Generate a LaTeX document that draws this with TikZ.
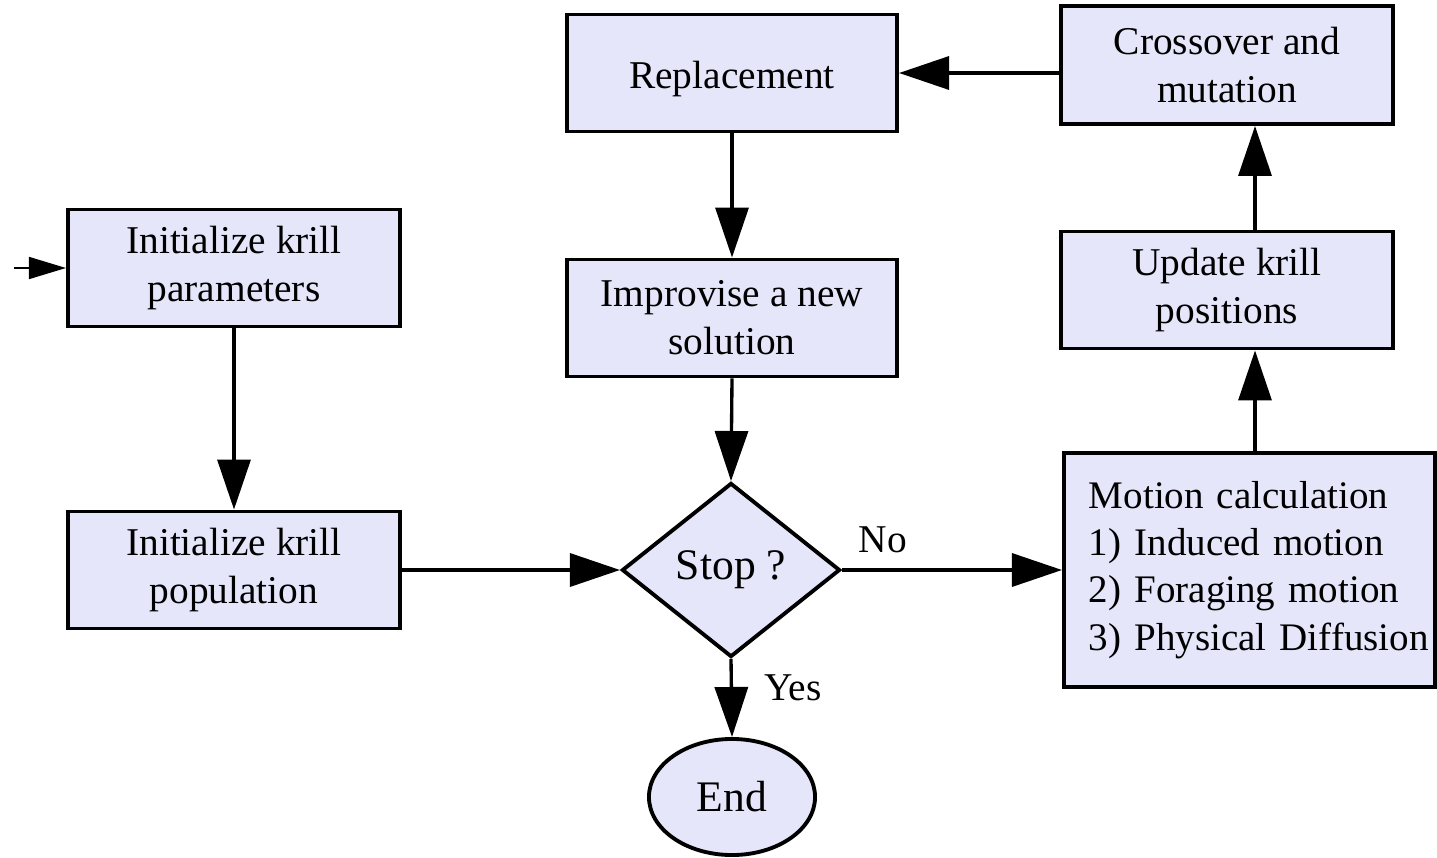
\documentclass[tikz,border=0pt]{standalone}
\usepackage{fontspec}
\setmainfont{Liberation Serif}
\usetikzlibrary{arrows.meta,shapes.geometric}
\definecolor{boxfill}{RGB}{230,230,250}
\tikzset{
  box/.style={draw=black, line width=1.1pt, fill=boxfill, align=center,
    inner sep=0pt, font=\fontsize{11.2}{13.6}\selectfont},
  decision/.style={box, diamond, minimum width=2.18cm, minimum height=1.74cm,
    font=\fontsize{12.4}{14}\selectfont},
  terminal/.style={box, ellipse, minimum width=1.66cm, minimum height=1.16cm,
    font=\fontsize{12.4}{14}\selectfont},
  flow/.style={line width=0.95pt, -{Triangle[length=0.5cm, width=0.33cm]}},
  entryflow/.style={line width=0.45pt, -{Triangle[length=0.37cm, width=0.22cm]}},
  lbl/.style={font=\fontsize{11.2}{13.6}\selectfont, inner sep=0pt}
}
\begin{document}
\begin{tikzpicture}[x=0.01cm, y=-0.01cm]
  \useasboundingbox (0,0) rectangle (1437,858);

  % process boxes
  \node[box, minimum width=3.32cm, minimum height=1.17cm] (params) at (234,268)
    {Initialize krill\\parameters};
  \node[box, minimum width=3.32cm, minimum height=1.17cm] (pop) at (234,570)
    {Initialize krill\\population};
  \node[box, minimum width=3.30cm, minimum height=1.17cm,
        text height=0.36cm, text depth=0.06cm] (repl) at (732,73)
    {Replacement};
  \node[box, minimum width=3.30cm, minimum height=1.17cm] (impr) at (732,318)
    {Improvise a new\\solution};
  \node[box, minimum width=3.31cm, minimum height=1.18cm] (cross) at (1227,65)
    {Crossover and\\mutation};
  \node[box, minimum width=3.31cm, minimum height=1.17cm] (upd) at (1227,290)
    {Update krill\\positions};
  \node[box, anchor=west, text width=3.21cm, inner xsep=0.25cm, align=left,
        minimum height=2.34cm, font=\fontsize{11.1}{13.4}\selectfont] (motion) at (1062,570)
    {Motion calculation\\1) Induced motion\\2) Foraging motion\\\mbox{3) Physical Diffusion}};

  % decision and terminal
  \node[decision] (stop) at (731,570) {Stop ?};
  \node[terminal] (end) at (732,797) {End};

  % branch labels
  \node[lbl] (nolbl) at (883,540) {No};
  \node[lbl] (yeslbl) at (793,688) {Yes};

  % connectors
  \coordinate (entry) at (14,268);
  \coordinate (rx) at (1255,0);
  \draw[entryflow] (entry) -- (params.west);
  \draw[flow] (params.south) -- (pop.north);
  \draw[flow] (pop.east) -- (stop.west);
  \draw[flow] (stop.east) -- (motion.west);
  \draw[flow] (rx |- motion.north) -- (rx |- upd.south);
  \draw[flow] (rx |- upd.north) -- (rx |- cross.south);
  \draw[flow] (cross.west |- repl.east) -- (repl.east);
  \draw[flow] (repl.south) -- (impr.north);
  \draw[flow] (impr.south) -- (stop.north);
  \draw[flow] (stop.south) -- (end.north);
\end{tikzpicture}
\end{document}
